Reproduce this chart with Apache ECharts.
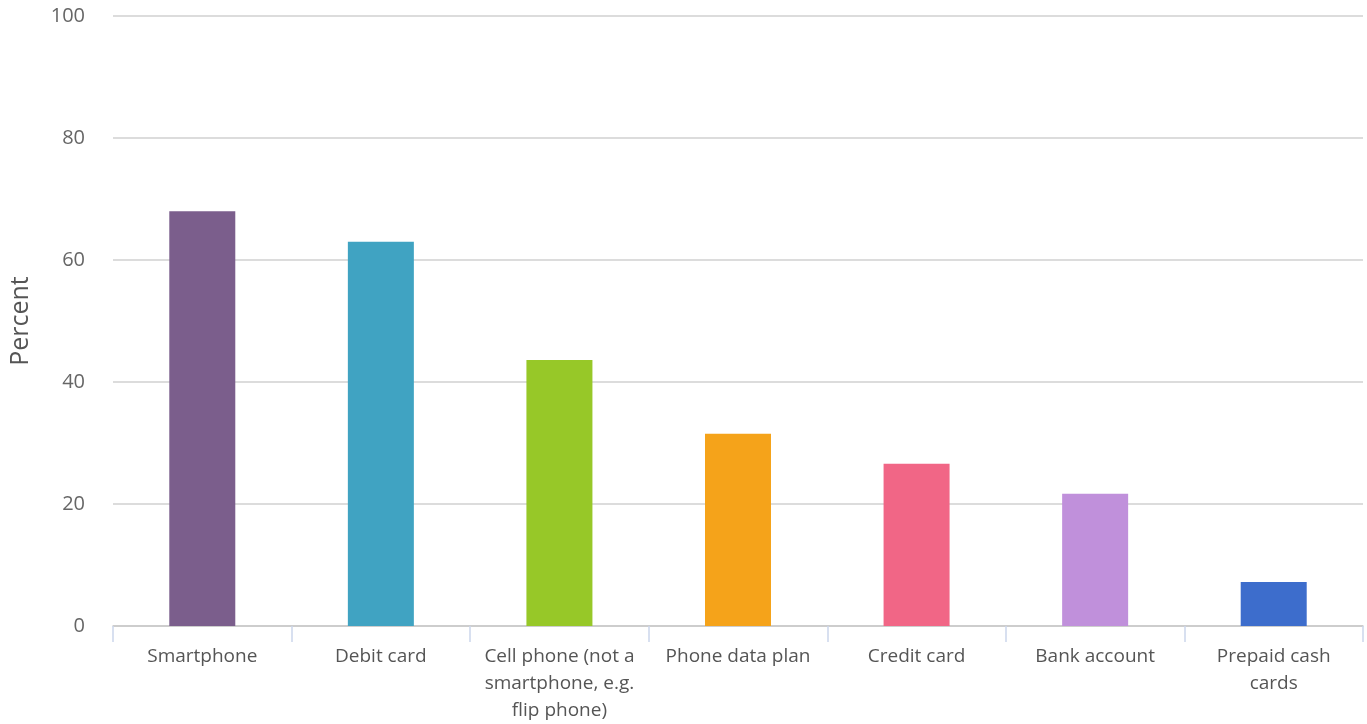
<!DOCTYPE html>
<html>
<head>
<meta charset="utf-8">
<script src="https://cdn.jsdelivr.net/npm/echarts@6/dist/echarts.min.js"></script>
<style>
html,body{margin:0;padding:0;background:#fff;}
#chart{width:1367px;height:724px;}
</style>
</head>
<body>
<div id="chart"></div>
<script>
var categories = ["Smartphone", "Debit card", "Cell phone (not a\nsmartphone, e.g.\nflip phone)", "Phone data plan", "Credit card", "Bank account", "Prepaid cash\ncards"];
var values = [68, 63, 43.6, 31.5, 26.6, 21.7, 7.2];
var colors = ["#7B5E8C", "#40A3C2", "#97C828", "#F5A31A", "#F16686", "#C090DB", "#3D6DCC"];
var yTicks = [0, 20, 40, 60, 80, 100];

var chart = echarts.init(document.getElementById('chart'));
chart.setOption({
  animation: false,
  grid: {left: 113, right: 4, top: 16, bottom: 86, containLabel: false},
  xAxis: {
    type: 'category',
    data: categories,
    axisLine: {lineStyle: {color: '#c8c8c8', width: 1.5}},
    axisTick: {show: true, length: 16, lineStyle: {color: '#ccd6eb', width: 1.5}},
    axisLabel: {color: '#555', fontFamily: 'Open Sans', fontSize: 19, margin: 17, lineHeight: 27, interval: 0}
  },
  yAxis: {
    type: 'value',
    min: yTicks[0], max: yTicks[yTicks.length - 1], interval: 20,
    name: 'Percent',
    nameLocation: 'middle',
    nameGap: 80,
    nameTextStyle: {color: '#555', fontFamily: 'Open Sans', fontSize: 25},
    axisLine: {show: false},
    axisTick: {show: false},
    axisLabel: {color: '#666', fontFamily: 'Open Sans', fontSize: 20, margin: 28},
    splitLine: {lineStyle: {color: '#d0d0d0', width: 1.5}}
  },
  series: [{
    type: 'bar',
    barWidth: 66,
    data: values.map(function(v, i){ return {value: v, itemStyle: {color: colors[i]}}; })
  }]
});
</script>
</body>
</html>
